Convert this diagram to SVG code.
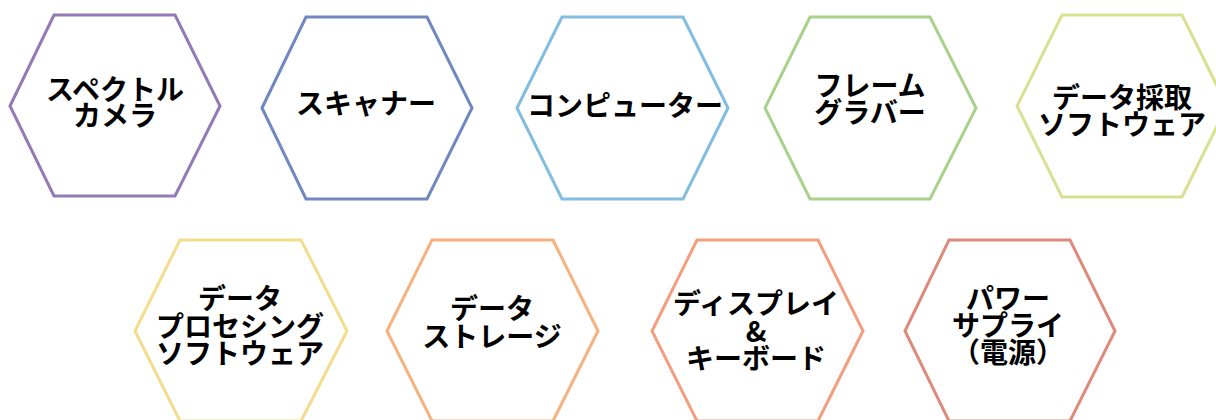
<svg xmlns="http://www.w3.org/2000/svg" width="1216" height="420" viewBox="0 0 1216 420">
<style>
.hex{fill:#fff;stroke-width:3;stroke-linejoin:miter}
.t{font-family:"Noto Sans CJK JP","Noto Sans",sans-serif;font-weight:700;font-size:28px;fill:#000;text-anchor:middle;dominant-baseline:central}
.h{font-feature-settings:"halt"}
</style>
<rect width="1216" height="420" fill="#fff"/>
<g id="connectors"/>
<g id="n1"><polygon class="hex" stroke="#9479B5" points="10,106 54,15 175,15 220,106 175,196 54,196"/><text class="t" x="115" y="88">スペクトル</text><text class="t" x="115" y="114">カメラ</text></g>
<g id="n2"><polygon class="hex" stroke="#7088C0" points="262,108 306,17 427,17 472,108 427,199 306,199"/><text class="t" x="366" y="102">スキャナー</text></g>
<g id="n3"><polygon class="hex" stroke="#82BDE0" points="517,108 562,17 683,17 728,108 683,199 562,199"/><text class="t" x="625" y="104">コンピューター</text></g>
<g id="n4"><polygon class="hex" stroke="#A8D28C" points="765,108 810,17 930,17 976,108 930,199 810,199"/><text class="t" x="870" y="84">フレーム</text><text class="t" x="870" y="111">グラバー</text></g>
<g id="n5"><polygon class="hex" stroke="#D8E191" points="1017,106 1062,15 1182,15 1227,106 1182,197 1062,197"/><text class="t" x="1122" y="96">データ採取</text><text class="t" x="1122" y="123">ソフトウェア</text></g>
<g id="n6"><polygon class="hex" stroke="#F3DD8C" points="135,331 180,240 301,240 347,331 301,421 180,421"/><text class="t" x="240" y="297">データ</text><text class="t" x="240" y="325">プロセシング</text><text class="t" x="240" y="352">ソフトウェア</text></g>
<g id="n7"><polygon class="hex" stroke="#F5B27E" points="387,331 432,240 553,240 598,331 553,421 432,421"/><text class="t" x="492" y="307">データ</text><text class="t" x="492" y="335">ストレージ</text></g>
<g id="n8"><polygon class="hex" stroke="#F29E7F" points="652,331 697,240 818,240 863,331 818,421 697,421"/><text class="t" x="756" y="302">ディスプレイ</text><text class="t" x="756" y="330">&amp;</text><text class="t" x="756" y="357">キーボード</text></g>
<g id="n9"><polygon class="hex" stroke="#DC8A7C" points="905,331 949,240 1070,240 1115,331 1070,421 949,421"/><text class="t" x="1008" y="297">パワー</text><text class="t" x="1008" y="324">サプライ</text><text class="t h" x="1008" y="351">（電源）</text></g>
</svg>
